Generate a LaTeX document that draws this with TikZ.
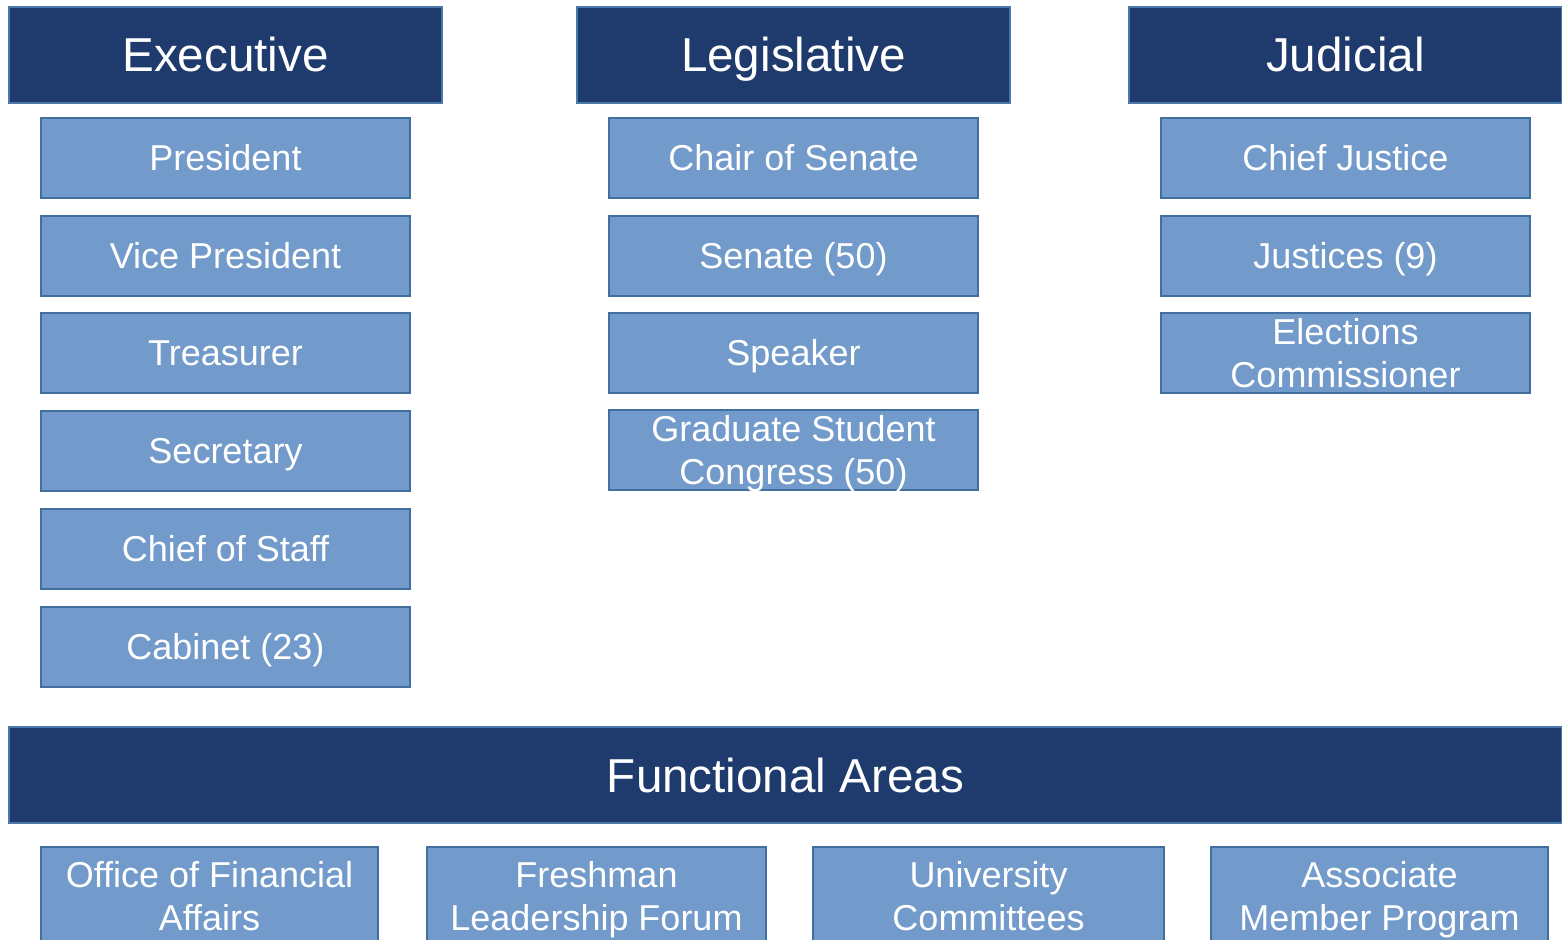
\documentclass[tikz,border=0pt]{standalone}
\usepackage{fontspec}
\setmainfont{Liberation Sans}
\definecolor{hdrfill}{HTML}{1F3A6C}
\definecolor{hdrdraw}{HTML}{4A78A8}
\definecolor{boxfill}{HTML}{729ACA}
\definecolor{boxdraw}{HTML}{41709E}
\tikzset{
  hdr/.style={draw=hdrdraw, fill=hdrfill, line width=1pt, text=white, inner sep=0pt,
    minimum height=48pt, font=\fontsize{23.8}{28}\selectfont, text height=17pt, text depth=0pt},
  item/.style={draw=boxdraw, fill=boxfill, line width=1pt, text=white, inner sep=0pt,
    minimum width=184.5pt, minimum height=40pt, font=\fontsize{18}{21.5}\selectfont,
    text height=12.9pt, text depth=0pt},
  item2/.style={draw=boxdraw, fill=boxfill, line width=1pt, text=white, inner sep=0pt,
    minimum width=184.5pt, minimum height=40pt, font=\fontsize{18}{21.5}\selectfont,
    align=center, text height=34.4pt, text depth=0pt},
}
\begin{document}
\begin{tikzpicture}[x=0.5pt,y=-0.5pt]
\useasboundingbox (0,0) rectangle (1562,940);
\fill[white] (0,0) rectangle (1562,940);
% headers
\node[hdr, minimum width=216.5pt] (exec) at (225.5,55) {Executive};
\node[hdr, minimum width=216.5pt] (leg) at (793.5,55) {Legislative};
\node[hdr, minimum width=216.5pt] (jud) at (1345.5,55) {Judicial};
% executive
\node[item] (pres) at (225.5,158) {President};
\node[item] (vp) at (225.5,256) {Vice President};
\node[item] (treas) at (225.5,353) {Treasurer};
\node[item] (sec) at (225.5,451) {Secretary};
\node[item] (cos) at (225.5,549) {Chief of Staff};
\node[item] (cab) at (225.5,647) {Cabinet (23)};
% legislative
\node[item] (chair) at (793.5,158) {Chair of Senate};
\node[item] (senate) at (793.5,256) {Senate (50)};
\node[item] (speaker) at (793.5,353) {Speaker};
\node[item2] (gsc) at (793.5,450) {Graduate Student\\Congress (50)};
% judicial
\node[item] (cj) at (1345.5,158) {Chief Justice};
\node[item] (just) at (1345.5,256) {Justices (9)};
\node[item2] (ec) at (1345.5,353) {Elections\\Commissioner};
% functional areas
\node[hdr, minimum width=776.5pt] (func) at (785.5,775) {Functional Areas};
\node[item2, minimum width=168.5pt, minimum height=49pt] (ofa) at (209.5,896) {Office of Financial\\Affairs};
\node[item2, minimum width=169.5pt, minimum height=49pt] (flf) at (596.5,896) {Freshman\\Leadership Forum};
\node[item2, minimum width=175.5pt, minimum height=49pt] (uc) at (988.5,896) {University\\Committees};
\node[item2, minimum width=168.5pt, minimum height=49pt] (amp) at (1379.5,896) {Associate\\Member Program};
\end{tikzpicture}
\end{document}
